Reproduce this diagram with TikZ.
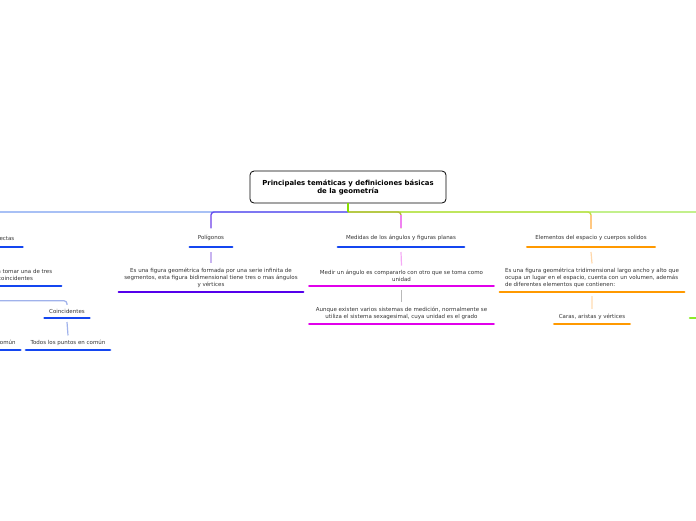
\documentclass[tikz,border=0pt]{standalone}
\usepackage{fontspec}
\setmainfont{DejaVu Sans}
\usetikzlibrary{positioning,calc}
\definecolor{RootGreen}{RGB}{136,221,0}
\definecolor{RectasLine}{RGB}{122,158,240}
\definecolor{PolyLine}{RGB}{104,80,240}
\definecolor{PolyDrop}{RGB}{160,130,240}
\definecolor{MedLine}{RGB}{178,186,60}
\definecolor{MedDrop}{RGB}{240,130,240}
\definecolor{ElemLine}{RGB}{190,225,70}
\definecolor{ElemDrop}{RGB}{255,200,130}
\definecolor{FarLine}{RGB}{195,240,140}
\definecolor{TopicBlue}{RGB}{20,70,240}
\definecolor{PolyViolet}{RGB}{85,0,235}
\definecolor{MedMagenta}{RGB}{225,0,235}
\definecolor{ElemOrange}{RGB}{255,153,0}
\definecolor{StubGreen}{RGB}{140,235,40}
\definecolor{PolyLink}{RGB}{200,180,240}
\definecolor{MedLink}{RGB}{245,170,245}
\definecolor{GrayLink}{RGB}{185,185,185}
\definecolor{ElemLink}{RGB}{255,215,170}
\definecolor{ElemLinkLight}{RGB}{255,232,205}
\definecolor{BlueLink}{RGB}{160,178,235}

\begin{document}
\begin{tikzpicture}[
  x=1pt,y=-1pt,
  every node/.style={font=\fontsize{5.5}{7}\selectfont,text=black!80},
  root/.style={
    draw=black,rounded corners=4pt,line width=0.8pt,align=center,
    minimum width=196pt,minimum height=32pt,
    font=\fontsize{6.9}{8}\selectfont\bfseries,text=black
  },
  topic/.style={anchor=south,inner xsep=8pt,inner ysep=6.3pt},
  detail/.style={anchor=south,inner xsep=4pt,inner ysep=4.3pt,align=center,minimum width=184pt},
  leaf/.style={anchor=south,inner xsep=4.5pt,inner ysep=4.3pt},
  uline/.style={line width=2.6pt,line cap=round},
  branch/.style={line width=1.4pt,rounded corners=3pt},
  link/.style={line width=1.2pt}
]
  \useasboundingbox (0,0) rectangle (696,520);
  \clip (0,0) rectangle (696,520);

  \node[root] (root) at (348,187)
    {Principales temáticas y definiciones básicas\\de la geometría};
  \coordinate (fork) at (348,212);

  \node[topic] (rectas) at (-31,247) {Posiciones relativas de las rectas};
  \node[topic] (poligonos) at (211,247) {Polígonos};
  \node[topic] (medidas) at (401,247) {Medidas de los ángulos y figuras planas};
  \node[topic] (elementos) at (591,247) {Elementos del espacio y cuerpos solidos};

  \node[detail] (rectasdesc) at (-31,286)
    {Dos rectas que están en un plano pueden tomar una de tres\\
     posiciones: secantes, paralelas o coincidentes};
  \node[detail] (poligonosdesc) at (211,292)
    {Es una figura geométrica formada por una serie infinita de\\
     segmentos, esta figura bidimensional tiene tres o mas ángulos\\
     y vértices};
  \node[detail] (medir) at (401.5,286)
    {Medir un ángulo es compararlo con otro que se toma como\\unidad};
  \node[detail] (sistemas) at (401.5,324)
    {Aunque existen varios sistemas de medición, normalmente se\\
     utiliza el sistema sexagesimal, cuya unidad es el grado};
  \node[detail,align=left] (elementosdesc) at (592,292)
    {Es una figura geométrica tridimensional largo ancho y alto que\\
     ocupa un lugar en el espacio, cuenta con un volumen, además\\
     de diferentes elementos que contienen:};
  \node[leaf] (caras) at (592,324) {Caras, aristas y vértices};
  \node[leaf] (coincidentes) at (67,318) {Coincidentes};
  \node[leaf] (todos) at (68,350) {Todos los puntos en común};
  \node[leaf] (unpunto) at (-11.5,350) {Un punto en común};
  \coordinate (farstub) at (690,318);

  \draw[branch,RectasLine] (fork) -| (rectas.north);
  \draw[branch,FarLine] (fork) -- (730,212);
  \draw[branch,PolyLine] (fork) -| (poligonos.north);
  \draw[branch,PolyDrop] ($(poligonos.north |- fork)+(0,3)$) -- (poligonos.north);
  \draw[branch,ElemLine] (fork) -| (elementos.north);
  \draw[branch,ElemDrop] ($(elementos.north |- fork)+(0,3)$) -- (elementos.north);
  \draw[branch,MedLine] (fork) -| (medidas.north);
  \draw[branch,MedDrop] ($(medidas.north |- fork)+(0,3)$) -- (medidas.north);
  \draw[branch,RootGreen] (root.south) -- (fork);

  \draw[link,PolyLink] ($(poligonos.south)+(0,5)$) -- (poligonosdesc.north);
  \draw[link,MedLink] ($(medidas.south)+(0,5)$) -- (medir.north);
  \draw[link,GrayLink] ($(medir.south)+(0,4)$) -- (sistemas.north);
  \draw[link,ElemLink] ($(elementos.south)+(0,5)$) -- (elementosdesc.north);
  \draw[link,ElemLinkLight] ($(elementosdesc.south)+(0,4)$) -- (caras.north);
  \draw[link,BlueLink,rounded corners=3pt] ($(rectasdesc.south)+(0,5)$) |- ($(coincidentes.north)+(0,-4)$) -- (coincidentes.north);
  \draw[link,BlueLink] ($(coincidentes.south)+(0,4)$) -- (todos.north);

  \foreach \n/\c in {rectas/TopicBlue,poligonos/TopicBlue,medidas/TopicBlue,
      elementos/ElemOrange,rectasdesc/TopicBlue,poligonosdesc/PolyViolet,
      medir/MedMagenta,sistemas/MedMagenta,elementosdesc/ElemOrange,
      caras/ElemOrange,coincidentes/TopicBlue,todos/TopicBlue,unpunto/TopicBlue}
    \draw[uline,\c] (\n.south west) -- (\n.south east);
  \draw[uline,StubGreen] (farstub) -- ++(40,0);
\end{tikzpicture}
\end{document}
